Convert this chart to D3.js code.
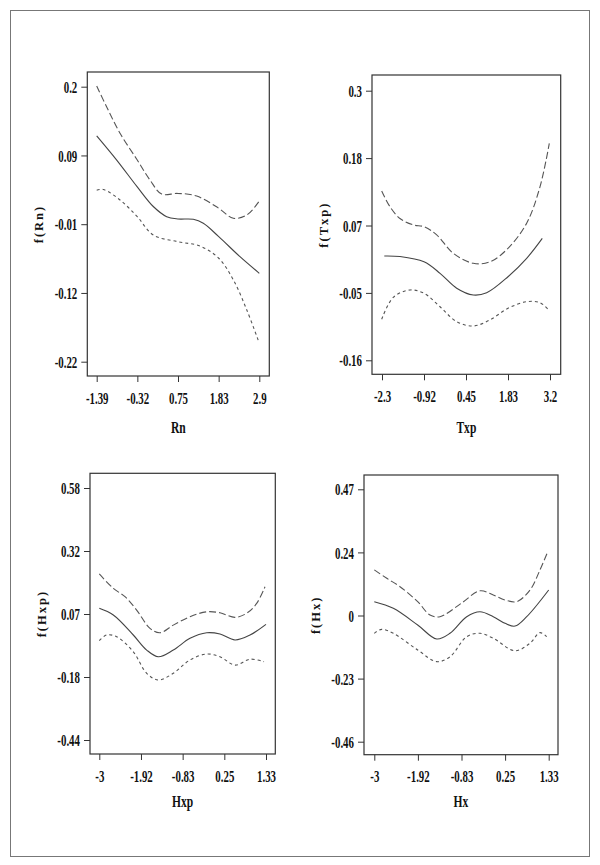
<!DOCTYPE html>
<html>
<head>
<meta charset="utf-8">
<script src="https://cdn.jsdelivr.net/npm/d3@7/dist/d3.min.js"></script>
<style>
  body { margin: 0; background: #fff; }
  svg text { font-family: "Liberation Serif", "Times New Roman", serif; font-weight: bold; fill: #111; }
</style>
</head>
<body>
<svg id="chart" width="600" height="865"></svg>
<script>
// Rn panel
const rnTicks = [0.2, 0.095, -0.01, -0.115, -0.22];
const rnTickLabels = ["0.2", "0.09", "-0.01", "-0.12", "-0.22"];
const rnXTicks = [-1.39, -0.3175, 0.755, 1.8275, 2.9];
const rnXTickLabels = ["-1.39", "-0.32", "0.75", "1.83", "2.9"];
const rnFit = [[-1.39, 0.125], [-0.862, 0.088], [-0.32, 0.047], [0.103, 0.017], [0.457, 0.0015], [0.75, -0.002], [1.159, -0.0025], [1.423, -0.0086], [1.83, -0.029], [2.39, -0.0596], [2.9, -0.085]];
const rnUpper = [[-1.39, 0.201], [-1.126, 0.169], [-0.775, 0.129], [-0.32, 0.088], [0.016, 0.0575], [0.325, 0.036], [0.75, 0.037], [1.249, 0.033], [1.83, 0.0143], [2.215, -0.001], [2.57, 0.004], [2.87, 0.023], [2.9, 0.026]];
const rnLower = [[-1.39, 0.042], [-1.216, 0.043], [-0.775, 0.027], [-0.32, 0.0015], [0.103, -0.0265], [0.75, -0.0367], [1.336, -0.0433], [1.83, -0.062], [2.215, -0.095], [2.57, -0.141], [2.87, -0.187]];

// Txp panel
const txpTicks = [0.3, 0.185, 0.07, -0.045, -0.16];
const txpTickLabels = ["0.3", "0.18", "0.07", "-0.05", "-0.16"];
const txpXTicks = [-2.3, -0.925, 0.45, 1.825, 3.2];
const txpXTickLabels = ["-2.3", "-0.92", "0.45", "1.83", "3.2"];
const txpFit = [[-2.225, 0.018], [-1.711, 0.017], [-0.925, 0.008], [-0.4, -0.0116], [0.145, -0.037], [0.689, -0.0486], [1.127, -0.0447], [1.825, -0.0174], [2.436, 0.014], [2.947, 0.048]];
const txpUpper = [[-2.31, 0.129], [-2.038, 0.102], [-1.711, 0.082], [-1.275, 0.071], [-0.925, 0.068], [-0.51, 0.054], [0.034, 0.0225], [0.689, 0.0055], [1.235, 0.008], [1.825, 0.031], [2.436, 0.074], [2.872, 0.136], [3.177, 0.21]];
const txpLower = [[-2.31, -0.09], [-1.93, -0.0526], [-1.383, -0.04], [-0.925, -0.0457], [-0.4, -0.0686], [0.145, -0.094], [0.689, -0.1015], [1.235, -0.091], [1.825, -0.0713], [2.436, -0.06], [2.872, -0.0617], [3.177, -0.0754]];

// Hxp panel
const hxpTicks = [0.58, 0.325, 0.07, -0.185, -0.44];
const hxpTickLabels = ["0.58", "0.32", "0.07", "-0.18", "-0.44"];
const hxpXTicks = [-3, -1.9175, -0.835, 0.2475, 1.33];
const hxpXTickLabels = ["-3", "-1.92", "-0.83", "0.25", "1.33"];
const hxpFit = [[-3, 0.093], [-2.636, 0.066], [-2.117, -0.015], [-1.769, -0.076], [-1.468, -0.103], [-1.078, -0.076], [-0.644, -0.0285], [-0.21, -0.006], [0.135, -0.011], [0.525, -0.035], [0.914, -0.015], [1.33, 0.028]];
const hxpUpper = [[-3, 0.232], [-2.636, 0.174], [-2.333, 0.14], [-2.03, 0.086], [-1.683, 0.012], [-1.423, -0.006], [-1.078, 0.025], [-0.644, 0.059], [-0.21, 0.079], [0.135, 0.075], [0.525, 0.0565], [0.828, 0.073], [1.088, 0.113], [1.304, 0.18]];
const hxpLower = [[-3, -0.038], [-2.81, -0.015], [-2.55, -0.022], [-2.117, -0.083], [-1.769, -0.17], [-1.468, -0.197], [-1.078, -0.17], [-0.644, -0.116], [-0.21, -0.092], [0.135, -0.103], [0.525, -0.137], [0.914, -0.113], [1.278, -0.123]];

// Hx panel
const hxTicks = [0.47, 0.2375, 0.005, -0.2275, -0.46];
const hxTickLabels = ["0.47", "0.24", "0", "-0.23", "-0.46"];
const hxXTicks = [-3, -1.9175, -0.835, 0.2475, 1.33];
const hxXTickLabels = ["-3", "-1.92", "-0.83", "0.25", "1.33"];
const hxFit = [[-3, 0.056], [-2.528, 0.0315], [-1.923, -0.03], [-1.451, -0.0816], [-1.121, -0.0606], [-0.706, 0.0006], [-0.376, 0.019], [-0.046, 0.0006], [0.245, -0.0237], [0.493, -0.034], [0.784, 0.0006], [1.33, 0.099]];
const hxUpper = [[-3, 0.173], [-2.69, 0.142], [-2.362, 0.111], [-1.923, 0.056], [-1.617, 0.0068], [-1.369, 0.0006], [-0.84, 0.05], [-0.376, 0.096], [-0.046, 0.0805], [0.245, 0.062], [0.535, 0.056], [0.866, 0.099], [1.114, 0.173], [1.295, 0.236]];
const hxLower = [[-3, -0.0606], [-2.817, -0.046], [-2.528, -0.0606], [-1.923, -0.122], [-1.451, -0.165], [-1.121, -0.147], [-0.706, -0.073], [-0.376, -0.0606], [-0.046, -0.079], [0.493, -0.125], [0.866, -0.097], [1.114, -0.058], [1.28, -0.073]];

const panels = [
  { xName: "Rn", yName: "f(Rn)", yTicks: rnTicks, yLabels: rnTickLabels, xTicks: rnXTicks, xLabels: rnXTickLabels,
    fit: rnFit, upper: rnUpper, lower: rnLower,
    box: [87.3, 72, 269.3, 376], xr: [96.7, 259.3], yr: [86.7, 361.7], ylabX: 39, xlabY: 427 },
  { xName: "Txp", yName: "f(Txp)", yTicks: txpTicks, yLabels: txpTickLabels, xTicks: txpXTicks, xLabels: txpXTickLabels,
    fit: txpFit, upper: txpUpper, lower: txpLower,
    box: [372, 75, 560.7, 374.3], xr: [382, 550], yr: [90.7, 360.3], ylabX: 324, xlabY: 427 },
  { xName: "Hxp", yName: "f(Hxp)", yTicks: hxpTicks, yLabels: hxpTickLabels, xTicks: hxpXTicks, xLabels: hxpXTickLabels,
    fit: hxpFit, upper: hxpUpper, lower: hxpLower,
    box: [90, 473.3, 275.3, 754], xr: [99.3, 266], yr: [488, 740], ylabX: 42, xlabY: 801 },
  { xName: "Hx", yName: "f(Hx)", yTicks: hxTicks, yLabels: hxTickLabels, xTicks: hxXTicks, xLabels: hxXTickLabels,
    fit: hxFit, upper: hxUpper, lower: hxLower,
    box: [364, 475, 558, 754.7], xr: [374.3, 548.7], yr: [489.3, 741.7], ylabX: 316, xlabY: 801 }
];

const svg = d3.select("#chart");
const squeeze = 0.68;

// outer frame
svg.append("rect")
  .attr("x", 10.5).attr("y", 10.5)
  .attr("width", 579).attr("height", 846)
  .attr("fill", "none").attr("stroke", "#777").attr("stroke-width", 1);

panels.forEach((p) => {
  const [x0, y0, x1, y1] = p.box;
  const x = d3.scaleLinear().domain([p.xTicks[0], p.xTicks[p.xTicks.length - 1]]).range(p.xr);
  const y = d3.scaleLinear().domain([p.yTicks[0], p.yTicks[p.yTicks.length - 1]]).range(p.yr);
  const g = svg.append("g");

  g.append("rect")
    .attr("x", x0).attr("y", y0)
    .attr("width", x1 - x0).attr("height", y1 - y0)
    .attr("fill", "none").attr("stroke", "#333").attr("stroke-width", 1.2);

  const yAxis = g.append("g")
    .attr("transform", `translate(${x0},0)`)
    .call(d3.axisLeft(y).tickValues(p.yTicks).tickFormat((d, i) => p.yLabels[i]).tickSize(6).tickSizeOuter(0));
  yAxis.select(".domain").remove();
  yAxis.selectAll("line").attr("stroke", "#333");
  yAxis.selectAll("text")
    .attr("x", 0).attr("dy", "0.35em")
    .attr("transform", `translate(-10,0) scale(${squeeze},1)`)
    .style("font-size", "16px");

  const xAxis = g.append("g")
    .attr("transform", `translate(0,${y1})`)
    .call(d3.axisBottom(x).tickValues(p.xTicks).tickFormat((d, i) => p.xLabels[i]).tickSize(6).tickSizeOuter(0));
  xAxis.select(".domain").remove();
  xAxis.selectAll("line").attr("stroke", "#333");
  xAxis.selectAll("text")
    .attr("y", 0).attr("dy", "0.35em")
    .attr("transform", `translate(0,22) scale(${squeeze},1)`)
    .style("font-size", "16px");

  g.append("text")
    .attr("transform", `translate(${(x0 + x1) / 2},${p.xlabY}) scale(${squeeze},1)`)
    .attr("text-anchor", "middle").attr("dy", "0.35em")
    .style("font-size", "17px")
    .text(p.xName);

  g.append("text")
    .attr("transform", `translate(${p.ylabX},${(y0 + y1) / 2}) rotate(-90)`)
    .attr("text-anchor", "middle").attr("dy", "0.35em")
    .style("font-size", "12.5px").style("letter-spacing", "2px")
    .text(p.yName);

  const line = d3.line().x((d) => x(d[0])).y((d) => y(d[1])).curve(d3.curveCatmullRom.alpha(0.5));

  g.append("path").datum(p.fit)
    .attr("d", line).attr("fill", "none").attr("stroke", "#444").attr("stroke-width", 1.1);
  g.append("path").datum(p.upper)
    .attr("d", line).attr("fill", "none").attr("stroke", "#555").attr("stroke-width", 1.1)
    .attr("stroke-dasharray", "7,3");
  g.append("path").datum(p.lower)
    .attr("d", line).attr("fill", "none").attr("stroke", "#555").attr("stroke-width", 1.1)
    .attr("stroke-dasharray", "3,3");
});
</script>
</body>
</html>
